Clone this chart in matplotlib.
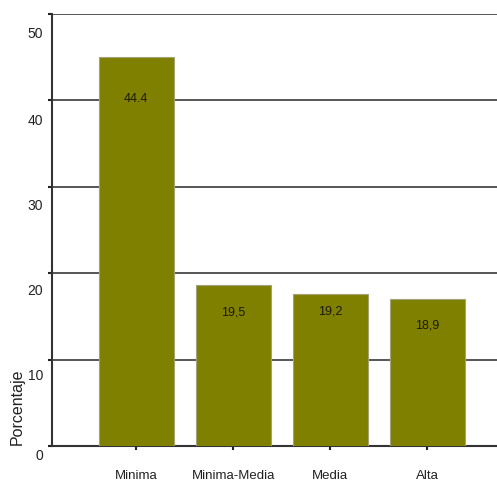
import matplotlib.pyplot as plt
from matplotlib.transforms import ScaledTranslation

plt.rcParams['font.family'] = ['Liberation Sans', 'DejaVu Sans']

# datos
categorias = ['Minima', 'Minima-Media', 'Media', 'Alta']
alturas = [45.0, 18.6, 17.6, 17.0]
etiquetas = ['44.4', '19,5', '19,2', '18,9']
# desplazamiento de la etiqueta bajo el borde superior (px)
bajada = [42, 27, 18, 26]
yticks = [0, 10, 20, 30, 40, 50]

fig = plt.figure(figsize=(4.97, 4.80), dpi=100)
ax = fig.add_axes([0.105, 0.071, 0.895, 0.9])

x = range(len(categorias))
ax.bar(x, alturas, width=0.77, color='#808000', edgecolor='#a3a37a',
       linewidth=0.8, zorder=3)

for xi, h, t, d in zip(x, alturas, etiquetas, bajada):
    ax.annotate(t, (xi, h), xytext=(0, -d * 0.72), textcoords='offset points',
                ha='center', va='center', fontsize=9, color='#1a1a00', zorder=4)

ax.set_xlim(-0.866, 3.72)
ax.set_ylim(0, 50)
ax.set_yticks(yticks)
ax.yaxis.grid(True, color='#555555', linewidth=1.4, zorder=0)
ax.set_axisbelow(True)

ax.set_xticks(list(x))
ax.set_xticklabels(categorias, fontsize=9.5)
ax.tick_params(axis='x', length=3, width=1.5, pad=14, colors='#222222')
ax.tick_params(axis='y', length=3, width=1.5, labelsize=10, colors='#222222')

# etiquetas del eje y un poco por debajo de su marca
for lab, d in zip(ax.get_yticklabels(), [9, 15, 16, 18, 19, 19]):
    lab.set_transform(lab.get_transform() +
                      ScaledTranslation(0, -d / 100, fig.dpi_scale_trans))

for s in ['top', 'right']:
    ax.spines[s].set_visible(False)
for s in ['left', 'bottom']:
    ax.spines[s].set_color('#333333')
    ax.spines[s].set_linewidth(1.5)

ax.set_ylabel('Porcentaje', fontsize=11.5, color='#222222')
ax.yaxis.set_label_coords(-0.062, 0.09)

fig.savefig('out.png', dpi=100)
